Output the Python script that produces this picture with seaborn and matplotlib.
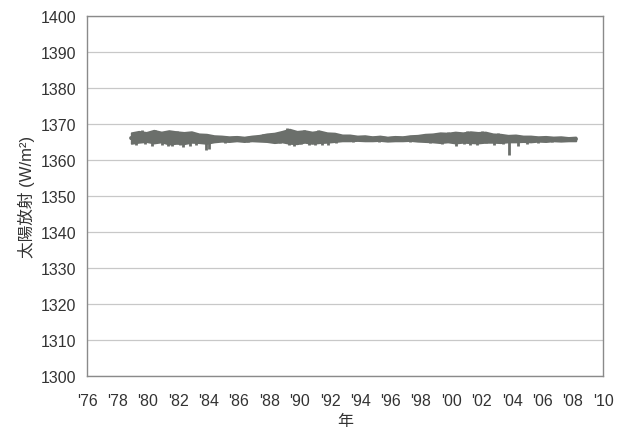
import numpy as np
import pandas as pd
import seaborn as sns
import matplotlib.pyplot as plt

# half-year samples of the daily band (upper / lower edge), W/m2
years = np.linspace(1978.9, 2008.2, 60)
upper = [1367.6, 1368.0, 1367.7, 1368.3, 1367.8, 1368.2, 1367.9, 1367.7, 1367.9, 1367.3,
         1367.2, 1366.8, 1366.7, 1366.5, 1366.6, 1366.4, 1366.7, 1366.9, 1367.3, 1367.5,
         1368.0, 1368.6, 1368.0, 1368.2, 1367.8, 1368.1, 1367.6, 1367.5, 1367.0, 1367.0,
         1366.7, 1366.8, 1366.5, 1366.7, 1366.4, 1366.6, 1366.5, 1366.8, 1366.9, 1367.2,
         1367.3, 1367.6, 1367.5, 1367.8, 1367.6, 1367.9, 1367.7, 1367.8, 1367.3, 1367.2,
         1366.9, 1367.0, 1366.7, 1366.7, 1366.5, 1366.6, 1366.4, 1366.5, 1366.3, 1366.4]
lower = [1364.6, 1364.9, 1365.1, 1364.7, 1365.0, 1364.4, 1364.6, 1364.5, 1364.9, 1364.8,
         1364.6, 1365.0, 1365.2, 1365.1, 1365.3, 1365.1, 1365.3, 1365.2, 1365.1, 1364.8,
         1365.0, 1364.6, 1364.5, 1364.9, 1364.6, 1364.8, 1364.9, 1365.1, 1365.3, 1365.3,
         1365.4, 1365.3, 1365.3, 1365.4, 1365.2, 1365.3, 1365.3, 1365.4, 1365.2, 1365.1,
         1365.0, 1364.8, 1365.0, 1364.7, 1364.9, 1364.8, 1364.7, 1364.9, 1364.9, 1364.8,
         1365.0, 1365.0, 1365.1, 1365.0, 1365.2, 1365.1, 1365.3, 1365.2, 1365.3, 1365.3]

# short downward spikes (sunspot dips)
dip_years = [1979.2, 1979.8, 1980.3, 1980.9, 1981.3, 1981.6, 1982.1, 1982.3, 1982.8,
             1983.2, 1983.8, 1984.0, 1985.1, 1986.6, 1988.7, 1989.3, 1989.6, 1990.1,
             1990.6, 1991.0, 1991.5, 1991.9, 1992.4, 1993.5, 1995.2, 1997.3, 1998.6,
             1999.4, 2000.3, 2000.8, 2001.2, 2001.7, 2002.3, 2002.8, 2003.4, 2003.8,
             2004.4, 2005.0, 2005.7, 2006.6]
dip_min = [1364.2, 1364.5, 1364.0, 1364.3, 1363.9, 1363.8, 1364.1, 1363.6, 1363.9,
           1364.2, 1362.9, 1363.2, 1364.6, 1364.9, 1364.6, 1364.2, 1364.0, 1364.4,
           1364.2, 1364.3, 1364.1, 1364.3, 1364.6, 1365.0, 1364.9, 1365.0, 1364.6,
           1364.5, 1364.0, 1364.4, 1364.3, 1364.2, 1364.6, 1364.2, 1364.4, 1361.4,
           1364.0, 1364.4, 1364.7, 1364.9]

# short upward spikes
peak_years = [1979.6, 1980.5, 1981.9, 1987.6, 1989.2, 1990.3, 1991.2, 1999.8, 2001.0,
              2002.0, 2003.1]
peak_max = [1368.3, 1368.4, 1368.2, 1367.3, 1368.8, 1368.4, 1368.3, 1367.8, 1368.0,
            1368.0, 1367.6]

tick_years = list(range(1976, 2011, 2))
tick_labels = ["'%02d" % (y % 100) for y in tick_years]

sns.set_style("white")
plt.rcParams['font.family'] = ['Liberation Sans', 'Noto Sans CJK JP', 'DejaVu Sans']

df = pd.DataFrame({'year': np.concatenate([years, years]),
                   'tsi': np.concatenate([upper, lower])})

fig = plt.figure(figsize=(6.27, 4.35), dpi=100)
ax = fig.add_axes([0.139, 0.133, 0.823, 0.828])

band = '#6b6f6b'
sns.lineplot(data=df, x='year', y='tsi', estimator='mean', errorbar=('pi', 100),
             color=band, lw=3.0, err_kws={'alpha': 1.0, 'lw': 1.2, 'edgecolor': band},
             ax=ax)
ax.vlines(dip_years, dip_min, 1366.0, color=band, lw=2.0)
ax.vlines(peak_years, 1366.0, peak_max, color=band, lw=2.0)

ax.set_xlim(1976, 2010)
ax.set_ylim(1300, 1400)
ax.set_yticks(range(1300, 1401, 10))
ax.set_xticks(tick_years)
ax.set_xticklabels(tick_labels)
ax.yaxis.grid(True, color='#c8c8c8', lw=0.9)
ax.xaxis.grid(False)
for s in ax.spines.values():
    s.set_color('#8a8a8a')
    s.set_linewidth(1.0)
ax.tick_params(axis='x', direction='in', length=4, color='#8a8a8a', labelsize=11.5,
               labelcolor='#333333', pad=12)
ax.tick_params(axis='y', length=0, labelsize=11.5, labelcolor='#333333', pad=8)
ax.set_xlabel('年', fontsize=11.5, color='#333333', labelpad=4)
ax.set_ylabel('太陽放射 (W/m²)', fontsize=12, color='#333333', labelpad=4)

fig.savefig('out.png', dpi=100, facecolor='white')
